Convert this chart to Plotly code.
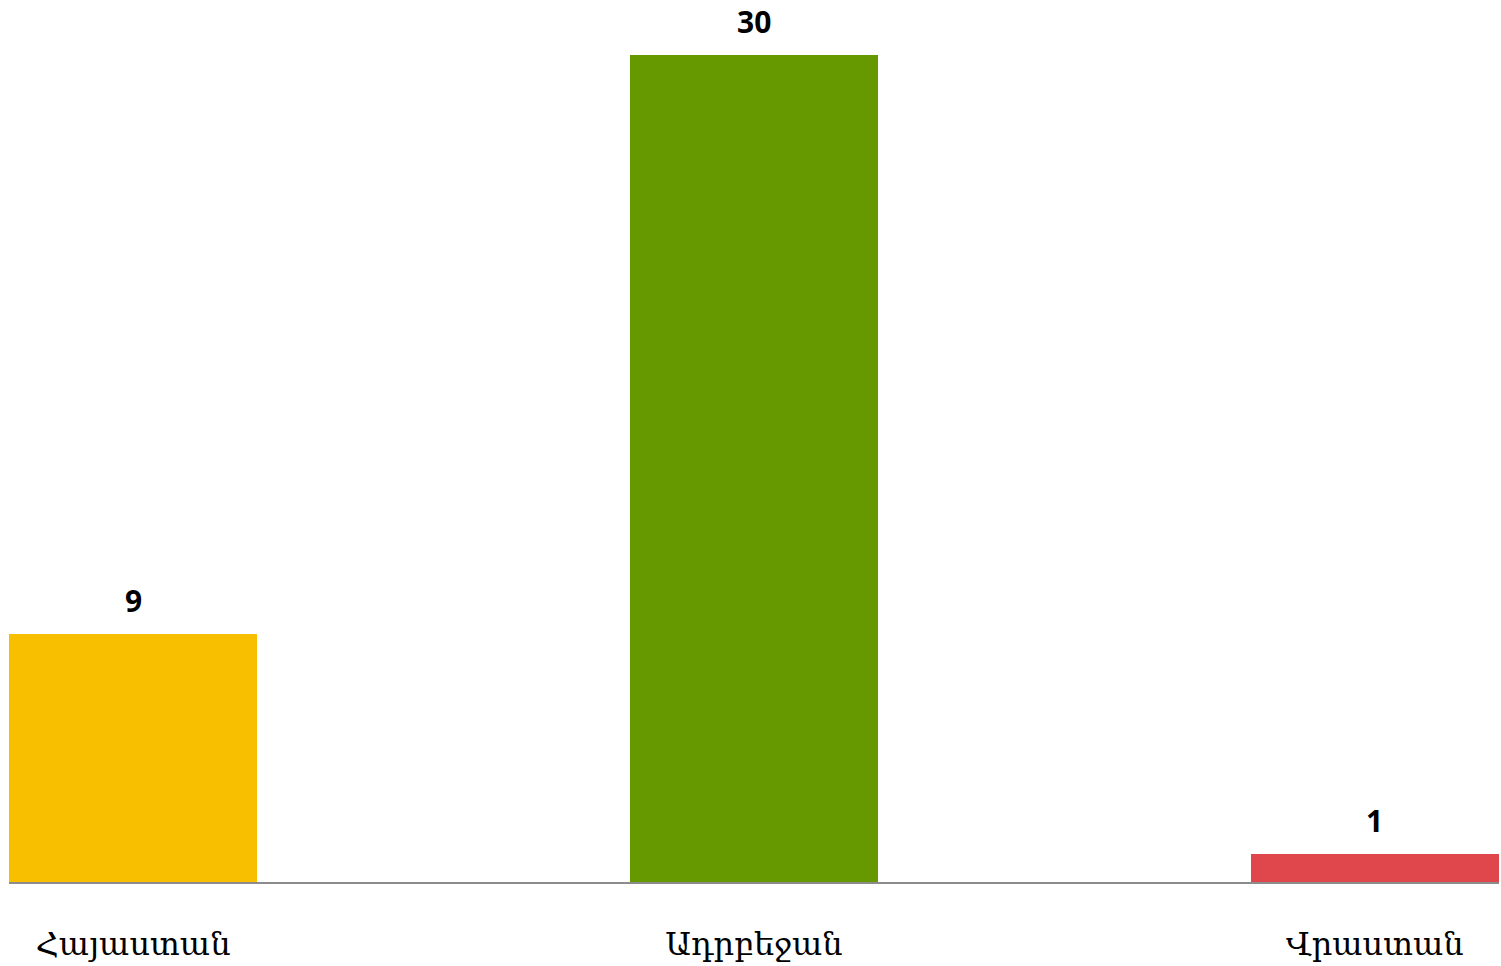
import plotly.graph_objects as go

categories = ["Հայաստան", "Ադրբեջան", "Վրաստան"]
values = [9, 30, 1]
colors = ["#F8BE00", "#669900", "#E0474C"]

fig = go.Figure(
    go.Bar(
        x=categories,
        y=values,
        marker=dict(color=colors, line=dict(width=0)),
        width=0.4,
        hoverinfo="x+y",
    )
)

for c, v in zip(categories, values):
    fig.add_annotation(
        x=c, y=v, text=str(v), showarrow=False,
        yanchor="bottom", yshift=11,
        font=dict(family="Open Sans, Noto Sans, sans-serif", size=30, color="#000000", weight="bold"),
    )

fig.update_layout(
    width=1501,
    height=966,
    margin=dict(l=9, r=2, t=18, b=84),
    plot_bgcolor="white",
    paper_bgcolor="white",
    showlegend=False,
    bargap=0,
    xaxis=dict(
        range=[-0.2, 2.2],
        automargin=False,
        showgrid=False,
        showline=True,
        linecolor="#8C8C8C",
        linewidth=2,
        ticks="",
        ticklabelstandoff=33,
        tickfont=dict(family="DejaVu Serif, Liberation Serif, serif", size=32, color="#000000"),
    ),
    yaxis=dict(
        range=[0, 31.34],
        visible=False,
        showgrid=False,
        zeroline=False,
        automargin=False,
    ),
)

fig.write_html(
    "out.html",
    config={"displayModeBar": False},
    post_script="document.body.style.margin='0px';document.body.style.overflow='hidden';",
)
